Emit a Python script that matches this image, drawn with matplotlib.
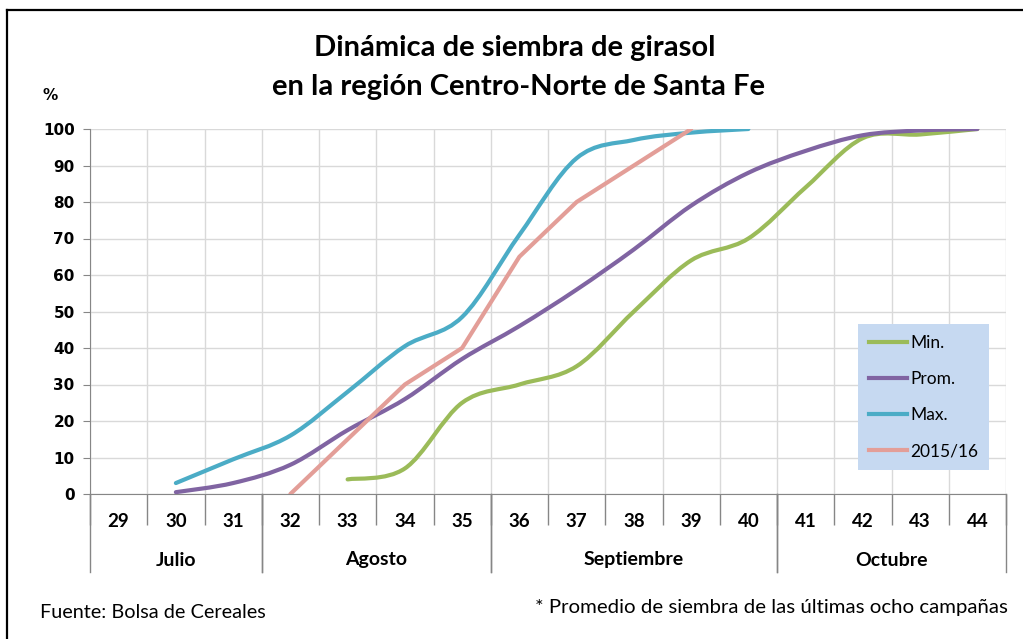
import numpy as np
import matplotlib.pyplot as plt
from matplotlib.path import Path
from matplotlib.patches import PathPatch
from matplotlib.lines import Line2D
import matplotlib.transforms as mtransforms

# Semanas 29-44 y meses
semanas = [29, 30, 31, 32, 33, 34, 35, 36, 37, 38, 39, 40, 41, 42, 43, 44]
meses = ['Julio', 'Agosto', 'Septiembre', 'Octubre']
meses_semanas = [(29, 31), (32, 35), (36, 40), (41, 44)]

# Series (% sembrado), desde la semana indicada
min_sem = [33, 34, 35, 36, 37, 38, 39, 40, 41, 42, 43, 44]
min_val = [4, 7, 25, 30, 35, 50, 64, 70, 84, 97.5, 98.5, 100]

prom_sem = [30, 31, 32, 33, 34, 35, 36, 37, 38, 39, 40, 41, 42, 43, 44]
prom_val = [0.5, 3, 8, 17.5, 26, 37, 46, 56, 67, 79, 88, 94, 98.3, 99.6, 100]

max_sem = [30, 31, 32, 33, 34, 35, 36, 37, 38, 39, 40]
max_val = [3, 9.5, 16, 28, 40.5, 48.5, 71, 92, 97, 99, 100]

c2015_sem = [32, 33, 34, 35, 36, 37, 38, 39]
c2015_val = [0, 15, 30, 40, 65, 80, 90, 100]

c_min = '#9BBB59'
c_prom = '#8064A2'
c_max = '#4BACC6'
c_2015 = '#E39E98'


def smooth_path(xs, ys):
    # curva suavizada tipo Excel (Bezier Catmull-Rom)
    pts = np.column_stack([xs, ys]).astype(float)
    n = len(pts)
    verts = [pts[0]]
    codes = [Path.MOVETO]
    for i in range(n - 1):
        p0 = pts[i - 1] if i > 0 else pts[i]
        p1 = pts[i]
        p2 = pts[i + 1]
        p3 = pts[i + 2] if i + 2 < n else pts[i + 1]
        c1 = p1 + (p2 - p0) / 6.0
        c2 = p2 - (p3 - p1) / 6.0
        verts += [c1, c2, p2]
        codes += [Path.CURVE4] * 3
    return Path(verts, codes)


fig = plt.figure(figsize=(10.23, 6.39), dpi=100)
W, H = 1023, 639

# marco exterior (solo arriba e izquierda)
fig.add_artist(Line2D([7 / W, 1], [1 - 10 / H, 1 - 10 / H], color='black', lw=1.6))
fig.add_artist(Line2D([7 / W, 7 / W], [0, 1 - 10 / H], color='black', lw=1.6))

left, right, top, bottom = 90, 1006, 129, 494
ax = fig.add_axes([left / W, 1 - bottom / H, (right - left) / W, (bottom - top) / H])

x_idx = {s: i for i, s in enumerate(semanas)}

for sem, val, col in [(min_sem, min_val, c_min), (prom_sem, prom_val, c_prom),
                      (max_sem, max_val, c_max)]:
    xs = [x_idx[s] for s in sem]
    ax.add_patch(PathPatch(smooth_path(xs, val), facecolor='none', edgecolor=col,
                           lw=3, capstyle='round', joinstyle='round', zorder=3))
ax.plot([x_idx[s] for s in c2015_sem], c2015_val, color=c_2015, lw=3,
        solid_capstyle='round', zorder=3)

ax.set_xlim(-0.5, len(semanas) - 0.5)
ax.set_ylim(0, 100)
ax.set_yticks(np.arange(0, 101, 10))
ax.tick_params(axis='y', length=5, color='#868686', labelsize=11, pad=6)
for lbl in ax.get_yticklabels():
    lbl.set_fontweight('bold')
    lbl.set_family('DejaVu Sans')

# marcas de categoria
ax.set_xticks(np.arange(-0.5, len(semanas), 1))
ax.set_xticklabels([])
ax.tick_params(axis='x', which='major', length=22.5, color='#868686', width=1)
ax.set_xticks(np.arange(len(semanas)), minor=True)
ax.set_xticklabels([str(s) for s in semanas], minor=True, fontsize=13.5,
                   fontweight='bold', family='Lato')
ax.tick_params(axis='x', which='minor', length=0, pad=14)

ax.grid(True, which='major', color='#D9D9D9', lw=1)
ax.set_axisbelow(True)
for sp in ['top', 'right']:
    ax.spines[sp].set_visible(False)
ax.spines['left'].set_color('#868686')
ax.spines['bottom'].set_color('#868686')

# meses y separadores
trans = mtransforms.blended_transform_factory(ax.transData, ax.transAxes)
y_low = -(572 - bottom) / (bottom - top)
for mes, (a, b) in zip(meses, meses_semanas):
    xa, xb = x_idx[a] - 0.5, x_idx[b] + 0.5
    ax.text((xa + xb) / 2, -(560 - bottom) / (bottom - top), mes, transform=trans,
            ha='center', va='center', fontsize=14, fontweight='bold', family='Lato')
    for xx in (xa, xb):
        ax.plot([xx, xx], [0, y_low], transform=trans, color='#868686', lw=1,
                clip_on=False)

# leyenda
handles = [Line2D([], [], color=c, lw=3) for c in (c_min, c_prom, c_max, c_2015)]
leg = ax.legend(handles, ['Min.', 'Prom.', 'Max.', '2015/16'],
                loc='upper left', bbox_to_anchor=((858 - left) / (right - left),
                                                  (bottom - 324) / (bottom - top)),
                frameon=True, fancybox=False, facecolor='#C6D9F1', edgecolor='none',
                framealpha=1, prop={'family': 'Lato', 'size': 12.5},
                handlelength=2.2, handletextpad=0.15, labelspacing=1.15,
                borderpad=0.65, borderaxespad=0)

fig.text(515 / W, 1 - 48 / H, 'Dinámica de siembra de girasol', ha='center',
         va='center', fontsize=21, fontweight='bold', family='Lato')
fig.text(518 / W, 1 - 87 / H, 'en la región Centro-Norte de Santa Fe', ha='center',
         va='center', fontsize=21, fontweight='bold', family='Lato')
fig.text(50 / W, 1 - 96 / H, '%', ha='center', va='center', fontsize=11,
         fontweight='bold', family='DejaVu Sans')

fig.text(40 / W, 1 - 612 / H, 'Fuente: Bolsa de Cereales', ha='left', va='center',
         fontsize=14.3, family='Lato')
fig.text(1008 / W, 1 - 608 / H, '* Promedio de siembra de las últimas ocho campañas',
         ha='right', va='center', fontsize=14.7, family='Lato')

fig.savefig('out.png', dpi=100)
